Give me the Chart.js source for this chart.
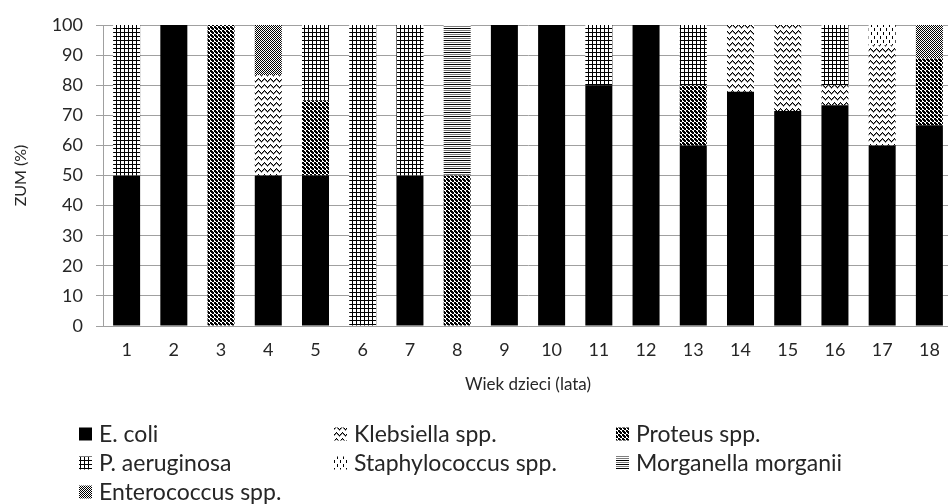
<!DOCTYPE html>
<html>
<head>
<meta charset="utf-8">
<script src="https://cdn.jsdelivr.net/npm/chart.js@4.4.1/dist/chart.umd.min.js"></script>
<style>
  html, body { margin: 0; padding: 0; background: #fff; overflow: hidden; }
  #wrap { width: 953px; height: 504px; }
</style>
</head>
<body>
<div id="wrap"><canvas id="c" width="953" height="504"></canvas></div>
<script>
// Age of children (years)
const ages = ['1','2','3','4','5','6','7','8','9','10','11','12','13','14','15','16','17','18'];

// Share of each pathogen in urinary tract infections (%), per age
const eColi        = [50, 100, 0, 50, 50, 0, 50, 0, 100, 100, 80, 100, 60, 77.8, 71.4, 73.3, 60, 66.7];
const klebsiella   = [0, 0, 0, 33.3, 0, 0, 0, 0, 0, 0, 0, 0, 0, 22.2, 28.6, 6.7, 33.3, 0];
const proteus      = [0, 0, 100, 0, 25, 0, 0, 50, 0, 0, 0, 0, 20, 0, 0, 0, 0, 22.2];
const pAeruginosa  = [50, 0, 0, 0, 25, 100, 50, 0, 0, 0, 20, 0, 20, 0, 0, 20, 0, 0];
const staphylococcus = [0, 0, 0, 0, 0, 0, 0, 0, 0, 0, 0, 0, 0, 0, 0, 0, 6.7, 0];
const morganella   = [0, 0, 0, 0, 0, 0, 0, 50, 0, 0, 0, 0, 0, 0, 0, 0, 0, 0];
const enterococcus = [0, 0, 0, 16.7, 0, 0, 0, 0, 0, 0, 0, 0, 0, 0, 0, 0, 0, 11.1];

const seriesNames = ['E. coli', 'Klebsiella spp.', 'Proteus spp.', 'P. aeruginosa',
                     'Staphylococcus spp.', 'Morganella morganii', 'Enterococcus spp.'];

const canvas = document.getElementById('c');
const ctx = canvas.getContext('2d');

// Small monochrome tiles used as hatch fills
function makePattern(w, h, draw) {
  const t = document.createElement('canvas');
  t.width = w; t.height = h;
  const g = t.getContext('2d');
  g.fillStyle = '#fff';
  g.fillRect(0, 0, w, h);
  draw(g);
  return ctx.createPattern(t, 'repeat');
}
function px(g, x, y, col) { g.fillStyle = col; g.fillRect(x, y, 1, 1); }

const solidBlack = '#000';

const wavePattern = makePattern(6, 6, g => {
  const ys = [0, 1, 2, 3, 2, 1];
  ys.forEach((y, x) => { px(g, x, y, '#000'); px(g, x, (y + 1) % 6, '#8a8a8a'); });
});

const checkerPattern = makePattern(4, 4, g => {
  g.fillStyle = '#000';
  g.fillRect(0, 0, 2, 2);
  g.fillRect(2, 2, 2, 2);
  px(g, 3, 0, '#000');
  px(g, 0, 3, '#000');
});

const gridPattern = makePattern(4, 4, g => {
  g.fillStyle = '#000';
  g.fillRect(0, 0, 4, 1);
  g.fillRect(0, 0, 1, 4);
});

const dashPattern = makePattern(6, 8, g => {
  g.fillStyle = '#000';
  g.fillRect(1, 0, 1, 3);
  g.fillRect(4, 4, 1, 3);
});

const stripePattern = makePattern(1, 4, g => {
  px(g, 0, 0, '#000');
  px(g, 0, 2, '#7a7a7a');
});

const grayPattern = makePattern(2, 2, g => {
  px(g, 0, 0, '#000');
  px(g, 1, 1, '#000');
});

const fills = [solidBlack, wavePattern, checkerPattern, gridPattern, dashPattern, stripePattern, grayPattern];
const values = [eColi, klebsiella, proteus, pAeruginosa, staphylococcus, morganella, enterococcus];

const datasets = seriesNames.map((name, i) => ({
  label: name,
  data: values[i],
  backgroundColor: fills[i],
  borderWidth: 0,
  categoryPercentage: 1.0,
  barPercentage: 0.572
}));

const textColor = '#262626';
const gridColor = '#a0a0a0';
const baseFont = 'Lato, "Open Sans", sans-serif';

// Three-column legend under the plot
const legendGrid = {
  id: 'legendGrid',
  afterDraw(chart) {
    const c = chart.ctx;
    const colX = [79, 334, 616];
    const rowY = [434, 463, 492];
    const box = 13;
    c.save();
    c.font = '23px ' + baseFont;
    c.textBaseline = 'middle';
    c.textAlign = 'left';
    chart.data.datasets.forEach((ds, i) => {
      const x = colX[i % 3];
      const y = rowY[Math.floor(i / 3)];
      c.fillStyle = ds.backgroundColor;
      c.fillRect(x, y - box / 2, box, box);
      c.fillStyle = textColor;
      c.fillText(ds.label, x + box + 7, y + 1);
    });
    c.restore();
  }
};

new Chart(canvas, {
  type: 'bar',
  data: { labels: ages, datasets },
  plugins: [legendGrid],
  options: {
    responsive: false,
    animation: false,
    devicePixelRatio: 1,
    layout: { padding: { left: 0, top: 25, right: 0, bottom: 100 } },
    plugins: {
      legend: { display: false },
      tooltip: { enabled: false },
      title: { display: false }
    },
    scales: {
      x: {
        stacked: true,
        grid: { display: false, drawTicks: false },
        border: { display: true, color: gridColor, width: 1 },
        ticks: { color: textColor, font: { family: baseFont, size: 18 }, padding: 13, maxRotation: 0 },
        title: {
          display: true,
          text: 'Wiek dzieci (lata)',
          color: textColor,
          font: { family: baseFont, size: 17 },
          padding: { top: 0, bottom: 9 }
        },
        afterFit(scale) { scale.height = 78; }
      },
      y: {
        stacked: true,
        min: 0,
        max: 100,
        ticks: { stepSize: 10, color: textColor, font: { family: baseFont, size: 18 }, padding: 13 },
        grid: { color: gridColor, lineWidth: 1, drawTicks: true, tickLength: 7 },
        border: { display: true, color: gridColor, width: 1 },
        title: {
          display: true,
          text: 'ZUM (%)',
          color: textColor,
          font: { family: baseFont, size: 16 },
          padding: { top: 11, bottom: 0 }
        },
        afterFit(scale) { scale.width = 103; }
      }
    }
  }
});
</script>
</body>
</html>
